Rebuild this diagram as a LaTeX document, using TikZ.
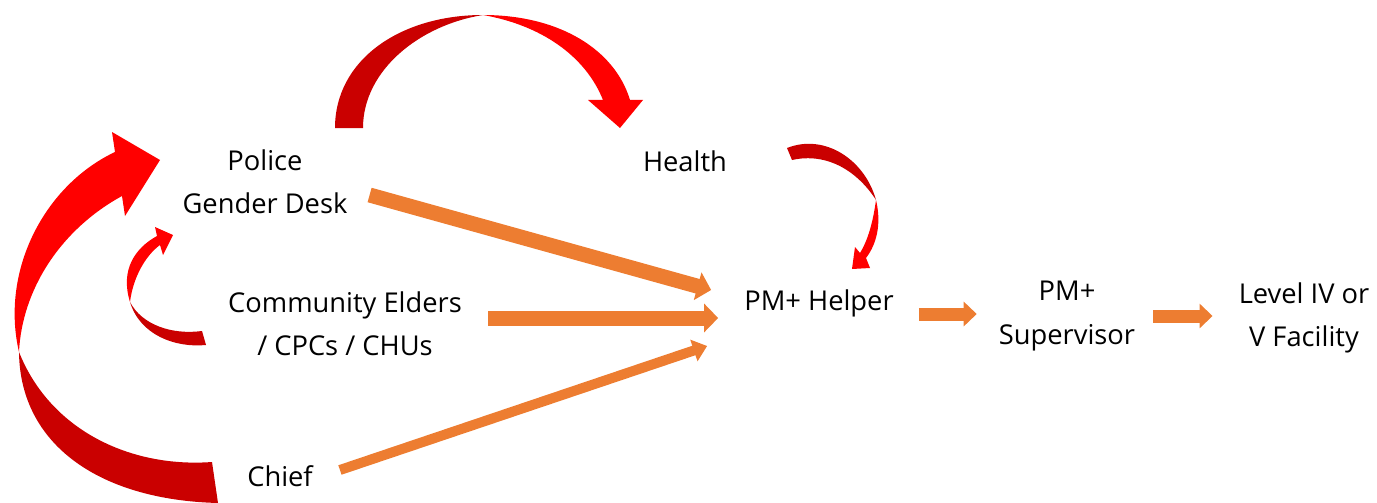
\documentclass[tikz,border=0pt]{standalone}
\usepackage{fontspec}
\setmainfont{Open Sans}
\usetikzlibrary{arrows.meta}
\definecolor{flow}{HTML}{ED7D31}
\definecolor{darkred}{HTML}{CA0000}
\definecolor{brightred}{HTML}{FF0000}

\begin{document}
\begin{tikzpicture}[x=1pt,y=-1pt]
        \tikzstyle{every node}+=[inner sep=0pt]
        \tikzstyle{lbl}=[align=center,font=\fontsize{27.3}{43.3}\selectfont]
        \tikzstyle{wide}=[flow,line width=15pt,-{Triangle[length=14pt,width=28pt]}]
        \tikzstyle{thin}=[flow,line width=10pt,-{Triangle[length=14pt,width=22pt]}]
        \tikzstyle{short}=[flow,line width=13pt,-{Triangle[length=13pt,width=24pt]}]
        \useasboundingbox (0,0) rectangle (1377,503);
        \node [lbl] (police) at (265,182) {Police\\Gender Desk};
        \node [lbl] (health) at (685,161) {Health};
        \node [lbl] (elders) at (345,324) {Community Elders\\/ CPCs / CHUs};
        \node [lbl] (chief) at (280,476) {Chief};
        \node [lbl] (helper) at (819,303) {PM+ Helper};
        \node [lbl] (supervisor) at (1067,316) {PM+\\Supervisor};
        \node [lbl] (facility) at (1304,318) {Level IV or\\V Facility};
        \draw [wide] ([shift={(22,13)}]police.east) -- ([shift={(-33,-13)}]helper.west);
        \draw [wide] ([shift={(26,-6)}]elders.east) -- ([shift={(-26,15)}]helper.west);
        \draw [thin] ([shift={(27,-6)}]chief.east) -- ([shift={(-37,43)}]helper.west);
        \draw [short] ([shift={(25,11)}]helper.east) -- ([shift={(-22,-2)}]supervisor.west);
        \draw [short] ([shift={(18,0)}]supervisor.east) -- ([shift={(-26,-2)}]facility.west);
        \fill [darkred] (19,352) .. controls (20,445) and (100,500) .. (218,503) -- (212,462) .. controls (130,468) and (50,430) .. (19,352) -- cycle;
        \fill [brightred] (19,352) .. controls (0,270) and (45,185) .. (115,152) -- (112,132) -- (160,160) -- (125,216) -- (122,196) .. controls (60,230) and (22,290) .. (19,352) -- cycle;
        \fill [darkred] (130,302) .. controls (140,335) and (175,348) .. (206,345) -- (202,331) .. controls (172,335) and (142,325) .. (130,302) -- cycle;
        \fill [brightred] (130,302) .. controls (120,270) and (135,248) .. (157,236) -- (155,227) -- (173,235) -- (163,255) -- (160,245) .. controls (145,256) and (133,278) .. (130,302) -- cycle;
        \fill [darkred] (335,128) .. controls (335,60) and (400,15) .. (483,15) .. controls (420,25) and (363,70) .. (363,128) -- cycle;
        \fill [brightred] (483,15) .. controls (560,15) and (615,50) .. (630,100) -- (643,100) -- (620,128) -- (588,100) -- (603,100) .. controls (585,55) and (540,25) .. (483,15) -- cycle;
        \fill [darkred] (787,148) .. controls (825,133) and (865,160) .. (876,200) .. controls (858,172) and (828,152) .. (792,160) -- cycle;
        \fill [brightred] (876,200) .. controls (882,225) and (876,245) .. (866,258) -- (870,268) -- (852,269) -- (855,247) -- (860,253) .. controls (868,240) and (873,222) .. (876,200) -- cycle;
\end{tikzpicture}
\end{document}
